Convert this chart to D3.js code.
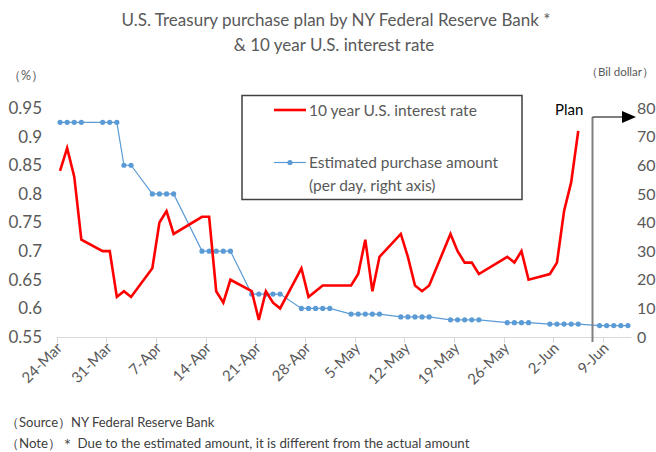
<!DOCTYPE html>
<html>
<head>
<meta charset="utf-8">
<script src="https://cdn.jsdelivr.net/npm/d3@7"></script>
<style>
    body { margin: 0; background: #fff; }
    #chart-area { width: 656px; height: 452px; overflow: hidden; }
    text { font-family: Lato, "Open Sans", sans-serif; }
</style>
</head>
<body>
<div id="chart-area"></div>
<script>
// 10 year yield (business days)
let rateDates = ["2020-03-24","2020-03-25","2020-03-26","2020-03-27","2020-03-30","2020-03-31","2020-04-01","2020-04-02","2020-04-03",
    "2020-04-06","2020-04-07","2020-04-08","2020-04-09","2020-04-13","2020-04-14","2020-04-15","2020-04-16","2020-04-17",
    "2020-04-20","2020-04-21","2020-04-22","2020-04-23","2020-04-24","2020-04-27","2020-04-28","2020-04-29","2020-04-30","2020-05-01",
    "2020-05-04","2020-05-05","2020-05-06","2020-05-07","2020-05-08","2020-05-11","2020-05-12","2020-05-13","2020-05-14","2020-05-15",
    "2020-05-18","2020-05-19","2020-05-20","2020-05-21","2020-05-22","2020-05-26","2020-05-27","2020-05-28","2020-05-29",
    "2020-06-01","2020-06-02","2020-06-03","2020-06-04","2020-06-05"];
let rateValues = [0.84,0.88,0.83,0.72,0.70,0.70,0.62,0.63,0.62,
    0.67,0.75,0.77,0.73,0.76,0.76,0.63,0.61,0.65,
    0.63,0.58,0.63,0.61,0.60,0.67,0.62,0.63,0.64,0.64,
    0.64,0.66,0.72,0.63,0.69,0.73,0.69,0.64,0.63,0.64,
    0.73,0.70,0.68,0.68,0.66,0.69,0.68,0.70,0.65,
    0.66,0.68,0.77,0.82,0.91];

// estimated purchase amount per day (bil dollar)
let buyDates = ["2020-03-24","2020-03-25","2020-03-26","2020-03-27","2020-03-30","2020-03-31","2020-04-01","2020-04-02","2020-04-03",
    "2020-04-06","2020-04-07","2020-04-08","2020-04-09","2020-04-13","2020-04-14","2020-04-15","2020-04-16","2020-04-17",
    "2020-04-20","2020-04-21","2020-04-22","2020-04-23","2020-04-24","2020-04-27","2020-04-28","2020-04-29","2020-04-30","2020-05-01",
    "2020-05-04","2020-05-05","2020-05-06","2020-05-07","2020-05-08","2020-05-11","2020-05-12","2020-05-13","2020-05-14","2020-05-15",
    "2020-05-18","2020-05-19","2020-05-20","2020-05-21","2020-05-22","2020-05-26","2020-05-27","2020-05-28","2020-05-29",
    "2020-06-01","2020-06-02","2020-06-03","2020-06-04","2020-06-05","2020-06-08","2020-06-09","2020-06-10","2020-06-11","2020-06-12"];
let buyValues = [75,75,75,75,75,75,75,60,60,
    50,50,50,50,30,30,30,30,30,
    15,15,15,15,15,10,10,10,10,10,
    8,8,8,8,8,7,7,7,7,7,
    6,6,6,6,6,5,5,5,5,
    4.5,4.5,4.5,4.5,4.5,4,4,4,4,4];

let tickDates = ["2020-03-24","2020-03-31","2020-04-07","2020-04-14","2020-04-21","2020-04-28","2020-05-05",
    "2020-05-12","2020-05-19","2020-05-26","2020-06-02","2020-06-09"];
let tickLabels = ["24-Mar","31-Mar","7-Apr","14-Apr","21-Apr","28-Apr","5-May","12-May","19-May","26-May","2-Jun","9-Jun"];
let leftTicks = [0.55,0.6,0.65,0.7,0.75,0.8,0.85,0.9,0.95];
let rightTicks = [0,10,20,30,40,50,60,70,80];
let dateRange = ["2020-03-24","2020-06-12"];
let planDate = "2020-06-07";

class TreasuryChart {
    constructor(_parentElement) {
        this.parentElement = _parentElement;
        this.initVis();
    }

    initVis() {
        let vis = this;
        vis.parse = d3.utcParse("%Y-%m-%d");
        vis.halfDay = 12 * 3600 * 1000;

        vis.svg = d3.select("#" + vis.parentElement).append("svg")
            .attr("width", 656)
            .attr("height", 452);

        // plot area
        vis.left = 56.5; vis.right = 631.5; vis.top = 108; vis.bottom = 337;

        vis.x = d3.scaleUtc()
            .domain([new Date(vis.parse(dateRange[0]) - vis.halfDay), new Date(+vis.parse(dateRange[1]) + vis.halfDay)])
            .range([vis.left, vis.right]);
        vis.yL = d3.scaleLinear().domain([0.55, 0.95]).range([vis.bottom, vis.top]);
        vis.yR = d3.scaleLinear().domain([0, 80]).range([vis.bottom, vis.top]);

        // title
        vis.svg.append("text").attr("x", 336).attr("y", 26).attr("text-anchor", "middle")
            .attr("font-size", 17).attr("fill", "#595959")
            .text("U.S. Treasury purchase plan by NY Federal Reserve Bank *");
        vis.svg.append("text").attr("x", 334).attr("y", 51).attr("text-anchor", "middle")
            .attr("font-size", 17).attr("fill", "#595959")
            .text("& 10 year U.S. interest rate");

        vis.svg.append("text").attr("x", 8).attr("y", 80).attr("font-size", 12.5).attr("fill", "#595959").text("（%）");
        vis.svg.append("text").attr("x", 654).attr("y", 76).attr("text-anchor", "end")
            .attr("font-size", 11.5).attr("fill", "#595959").text("（Bil dollar）");

        // left axis
        vis.svg.append("g")
            .attr("transform", "translate(45,0)")
            .call(d3.axisLeft(vis.yL).tickValues(leftTicks).tickSize(0).tickPadding(3).tickFormat(d3.format("")))
            .call(g => g.select(".domain").remove())
            .selectAll("text").attr("font-size", 17).attr("fill", "#595959").attr("font-family", "Lato, sans-serif");

        // right axis (kept inside the frame)
        vis.svg.append("g")
            .attr("transform", "translate(634,0)")
            .call(d3.axisRight(vis.yR).tickValues(rightTicks).tickSize(0).tickPadding(3))
            .call(g => g.select(".domain").remove())
            .selectAll("text").attr("font-size", 16).attr("fill", "#595959").attr("font-family", "Lato, sans-serif");

        // x axis
        let xg = vis.svg.append("g");
        xg.append("line").attr("x1", vis.left).attr("x2", vis.right)
            .attr("y1", vis.bottom + 0.5).attr("y2", vis.bottom + 0.5)
            .attr("stroke", "#d9d9d9").attr("stroke-width", 1);
        tickDates.forEach((d, i) => {
            let t = vis.parse(d);
            let xt = Math.round(vis.x(new Date(t - vis.halfDay))) + 0.5;
            xg.append("line").attr("x1", xt).attr("x2", xt).attr("y1", vis.bottom).attr("y2", vis.bottom + 6)
                .attr("stroke", "#d9d9d9");
            xg.append("text")
                .attr("transform", "translate(" + (vis.x(t) + 3) + "," + (vis.bottom + 12) + ") rotate(-45)")
                .attr("text-anchor", "end").attr("font-size", 15).attr("fill", "#595959")
                .text(tickLabels[i]);
        });

        // footnotes
        vis.svg.append("text").attr("x", 6).attr("y", 427).attr("font-size", 13).attr("fill", "#404040")
            .text("（Source）NY Federal Reserve Bank");
        vis.svg.append("text").attr("x", 6).attr("y", 448).attr("font-size", 13.3).attr("fill", "#404040")
            .text("（Note）＊ Due to the estimated amount, it is different from the actual amount");

        vis.wrangleData();
    }

    wrangleData() {
        let vis = this;
        vis.rateData = rateDates.map((d, i) => ({ date: vis.parse(d), value: rateValues[i] }));
        vis.buyData = buyDates.map((d, i) => ({ date: vis.parse(d), value: buyValues[i] }));
        vis.updateVis();
    }

    updateVis() {
        let vis = this;

        // blue purchase line
        vis.svg.append("path").datum(vis.buyData)
            .attr("fill", "none").attr("stroke", "#5b9bd5").attr("stroke-width", 1.2)
            .attr("d", d3.line().x(d => vis.x(d.date)).y(d => vis.yR(d.value)));
        vis.svg.selectAll(".buy-dot").data(vis.buyData).enter().append("circle")
            .attr("class", "buy-dot")
            .attr("cx", d => vis.x(d.date)).attr("cy", d => vis.yR(d.value))
            .attr("r", 2.6).attr("fill", "#5b9bd5");

        // red rate line
        vis.svg.append("path").datum(vis.rateData)
            .attr("fill", "none").attr("stroke", "#ff0000").attr("stroke-width", 2.6)
            .attr("stroke-linejoin", "miter")
            .attr("d", d3.line().x(d => vis.x(d.date)).y(d => vis.yL(d.value)));

        // plan marker
        let px = Math.round(vis.x(vis.parse(planDate))) + 0.5;
        vis.svg.append("line").attr("x1", px).attr("x2", px).attr("y1", 117).attr("y2", 342)
            .attr("stroke", "#7f7f7f").attr("stroke-width", 2);
        vis.svg.append("line").attr("x1", px).attr("x2", 623).attr("y1", 117).attr("y2", 117)
            .attr("stroke", "#000").attr("stroke-width", 1);
        vis.svg.append("path").attr("d", "M622,111L636,117L622,123Z").attr("fill", "#000");
        vis.svg.append("text").attr("x", 555).attr("y", 115).attr("font-size", 15).attr("fill", "#000").text("Plan");

        // legend
        let lg = vis.svg.append("g");
        lg.append("rect").attr("x", 242).attr("y", 95.5).attr("width", 280).attr("height", 104)
            .attr("fill", "#fff").attr("stroke", "#404040").attr("stroke-width", 1.5);
        lg.append("line").attr("x1", 274).attr("x2", 306).attr("y1", 110).attr("y2", 110)
            .attr("stroke", "#ff0000").attr("stroke-width", 2.6);
        lg.append("text").attr("x", 309).attr("y", 115.5).attr("font-size", 15.5).attr("fill", "#595959")
            .text("10 year U.S. interest rate");
        lg.append("line").attr("x1", 274).attr("x2", 306).attr("y1", 162.5).attr("y2", 162.5)
            .attr("stroke", "#5b9bd5").attr("stroke-width", 1.2);
        lg.append("circle").attr("cx", 290).attr("cy", 162.5).attr("r", 2.6).attr("fill", "#5b9bd5");
        lg.append("text").attr("x", 309).attr("y", 168).attr("font-size", 15.5).attr("fill", "#595959")
            .text("Estimated purchase amount");
        lg.append("text").attr("x", 309).attr("y", 191).attr("font-size", 15.5).attr("fill", "#595959")
            .text("(per day, right axis)");
    }
}

new TreasuryChart("chart-area");
</script>
</body>
</html>
